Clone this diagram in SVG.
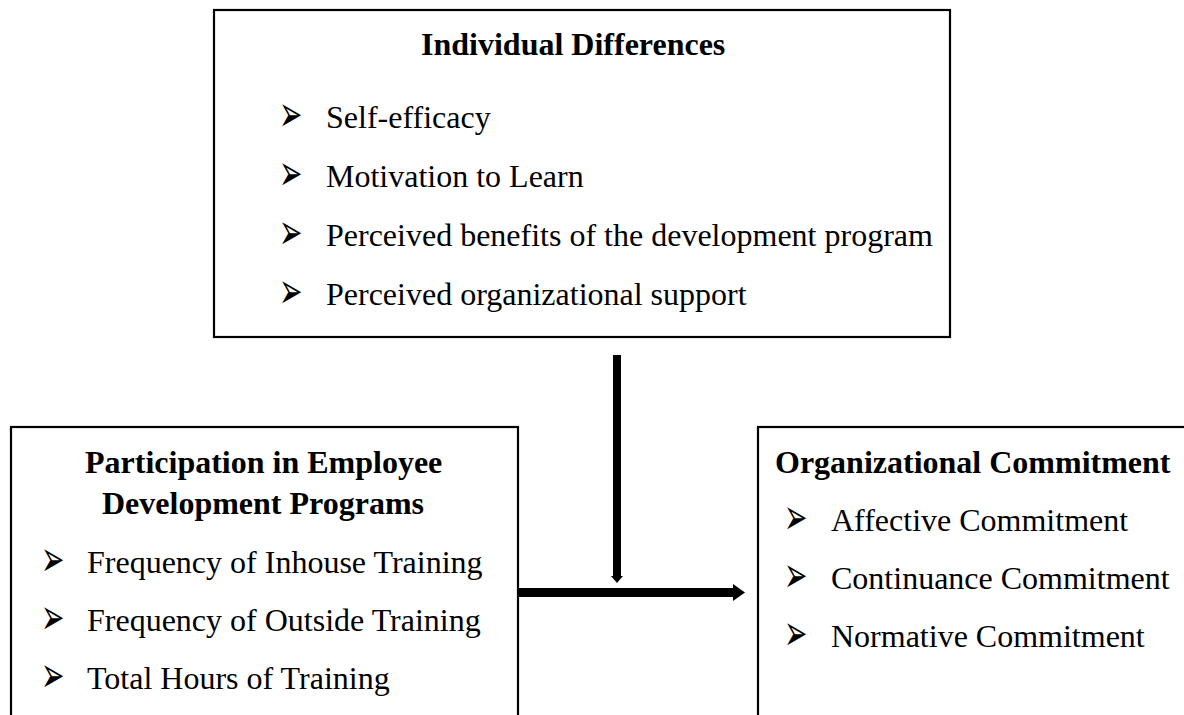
<svg xmlns="http://www.w3.org/2000/svg" xmlns:xlink="http://www.w3.org/1999/xlink" width="1184" height="715" viewBox="0 0 1184 715">
<style>
.box{fill:none;stroke:#000;stroke-width:2.2}
.t{font-family:"Liberation Serif","Times New Roman",serif;font-size:32px;fill:#000}
.h{font-family:"Liberation Serif","Times New Roman",serif;font-size:32px;font-weight:bold;fill:#000}
.b{font-family:"DejaVu Sans",sans-serif;font-size:28px;fill:#000}
</style>
<defs>
<text id="bul" class="b" transform="scale(1,1.8)">➢</text>
</defs>
<rect width="1184" height="715" fill="#fff"/>
<g id="individual-differences">
<rect class="box" x="214" y="10" width="736" height="327"/>
<text class="h" x="421" y="55">Individual Differences</text>
<use xlink:href="#bul" x="279" y="131"/><text class="t" x="326" y="128">Self-efficacy</text>
<use xlink:href="#bul" x="279" y="190"/><text class="t" x="326" y="187">Motivation to Learn</text>
<use xlink:href="#bul" x="279" y="249"/><text class="t" x="326" y="246">Perceived benefits of the development program</text>
<use xlink:href="#bul" x="279" y="308"/><text class="t" x="326" y="305">Perceived organizational support</text>
</g>
<g id="participation">
<rect class="box" x="11" y="427" width="507" height="320"/>
<text class="h" x="85" y="473">Participation in Employee</text>
<text class="h" x="102" y="514">Development Programs</text>
<use xlink:href="#bul" x="41" y="576"/><text class="t" x="87" y="573">Frequency of Inhouse Training</text>
<use xlink:href="#bul" x="41" y="634"/><text class="t" x="87" y="631">Frequency of Outside Training</text>
<use xlink:href="#bul" x="41" y="692"/><text class="t" x="87" y="689">Total Hours of Training</text>
</g>
<g id="organizational-commitment">
<rect class="box" x="758" y="427" width="440" height="320"/>
<text class="h" x="775" y="473">Organizational Commitment</text>
<use xlink:href="#bul" x="784" y="534"/><text class="t" x="831" y="531">Affective Commitment</text>
<use xlink:href="#bul" x="784" y="592"/><text class="t" x="831" y="589">Continuance Commitment</text>
<use xlink:href="#bul" x="784" y="650"/><text class="t" x="831" y="647">Normative Commitment</text>
</g>
<g id="connectors">
<rect x="613" y="355" width="8" height="222" fill="#000"/>
<polygon points="611,576 623,576 617,583" fill="#000"/>
<rect x="518" y="588" width="217" height="9" fill="#000"/>
<polygon points="733,584 745,592.5 733,601" fill="#000"/>
</g>
</svg>
